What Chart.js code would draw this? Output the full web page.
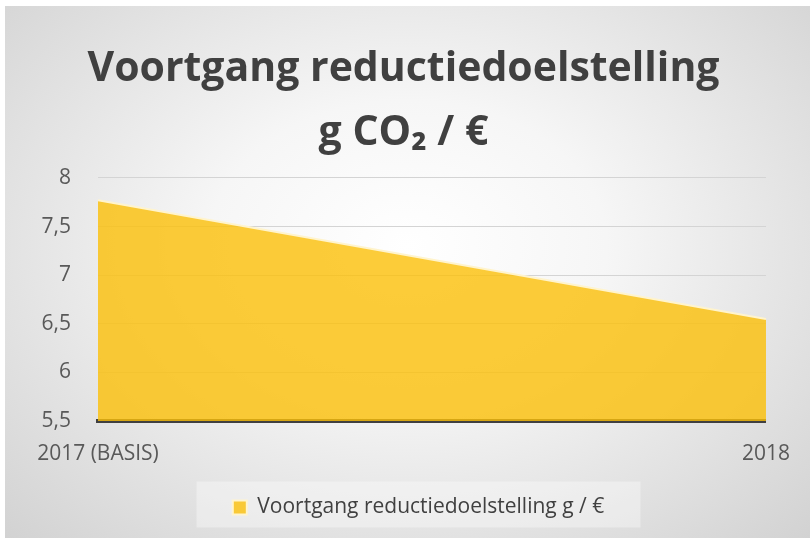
<!DOCTYPE html>
<html>
<head>
<meta charset="utf-8">
<script src="https://cdn.jsdelivr.net/npm/chart.js@4"></script>
<style>
  body { margin: 0; background: #fff; }
  #kader {
    position: absolute; left: 5px; top: 6px; width: 805px; height: 532px;
    background: radial-gradient(ellipse at 50% 45%, #ffffff 0%, #f6f6f6 35%, #d2d2d2 100%);
  }
</style>
</head>
<body>
<div id="kader"><canvas id="grafiek" width="805" height="532"></canvas></div>
<script>
const jaren = ['2017 (BASIS)', '2018'];
const waarden = [7.77, 6.55];
const titelRegels = ['Voortgang reductiedoelstelling', 'g CO\u2082 / \u20ac'];
const reeksNaam = 'Voortgang reductiedoelstelling g / \u20ac';

// titel en legenda iets naar rechts, zoals in het origineel
const verschuiving = {
  id: 'verschuiving',
  afterLayout(chart) {
    if (chart.titleBlock) { chart.titleBlock.left += 12; chart.titleBlock.right += 12; }
    if (chart.legend) { chart.legend.left += 27; chart.legend.right += 27; }
  },
  // lichte achtergrond achter de legenda
  beforeDraw(chart) {
    const l = chart.legend;
    if (!l) return;
    const c = chart.ctx;
    const midX = (l.left + l.right) / 2;
    const midY = (l.top + l.bottom) / 2;
    c.save();
    c.fillStyle = 'rgba(255,255,255,0.35)';
    c.fillRect(midX - 222, midY - 25, 444, 46);
    c.restore();
  }
};

const ctx = document.getElementById('grafiek').getContext('2d');
new Chart(ctx, {
  type: 'line',
  data: {
    labels: jaren,
    datasets: [{
      label: reeksNaam,
      data: waarden,
      fill: 'start',
      backgroundColor: 'rgba(251,191,8,0.8)',
      borderColor: 'rgba(255,244,205,1)',
      borderWidth: 2,
      pointRadius: 0,
      tension: 0
    }]
  },
  options: {
    responsive: false,
    animation: false,
    layout: { padding: { left: 10, right: 42, top: 31, bottom: 10 } },
    plugins: {
      title: {
        display: true,
        text: titelRegels,
        color: '#404040',
        font: { family: 'Open Sans', size: 41, weight: 'bold', lineHeight: 1.56 },
        padding: { top: 0, bottom: 13 }
      },
      legend: {
        position: 'bottom',
        labels: {
          color: '#404040',
          font: { family: 'Open Sans', size: 21 },
          boxWidth: 14, boxHeight: 14,
          padding: 12
        }
      },
      tooltip: { enabled: false }
    },
    scales: {
      x: {
        offset: false,
        grid: { display: false, drawTicks: false },
        border: { color: '#404040', width: 4 },
        ticks: { color: '#595959', font: { family: 'Open Sans', size: 21 }, padding: 20, maxRotation: 0 },
        afterFit(scale) { scale.height = 64; }
      },
      y: {
        min: 5.5, max: 8,
        ticks: {
          stepSize: 0.5, color: '#595959', padding: 27,
          font: { family: 'Open Sans', size: 21 },
          callback: v => String(v).replace('.', ',')
        },
        grid: { color: '#d4d4d4', drawTicks: false },
        border: { display: false },
        afterFit(scale) { scale.width = 83; }
      }
    }
  },
  plugins: [verschuiving]
});
</script>
</body>
</html>
